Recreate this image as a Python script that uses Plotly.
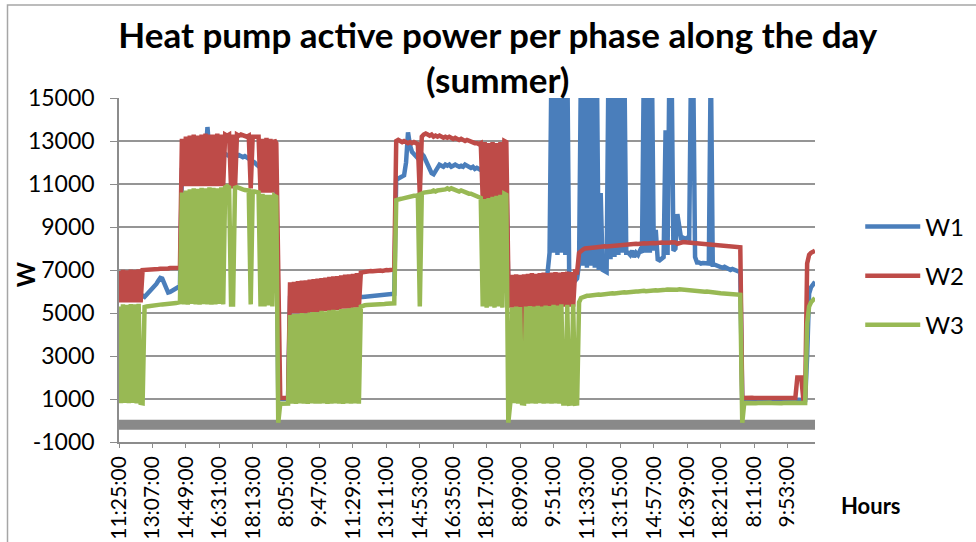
import plotly.graph_objects as go

# ---------------- data ----------------
TIME_LABELS = ["11:25:00", "13:07:00", "14:49:00", "16:31:00", "18:13:00",
               "8:05:00", "9:47:00", "11:29:00", "13:11:00", "14:53:00",
               "16:35:00", "18:17:00", "8:09:00", "9:51:00", "11:33:00",
               "13:15:00", "14:57:00", "16:39:00", "18:21:00", "8:11:00",
               "9:53:00"]
SAMPLES_PER_LABEL = 17   # one tick label every 17 samples
Y_TICKS = [-1000, 1000, 3000, 5000, 7000, 9000, 11000, 13000, 15000]
Y_TICK_TEXT = ["-1000", "1000", "3000", "5000", "7000", "9000", "11000", "13000", "15000"]

# W1 (blue) phase power [W], read segment by segment
W1_PARTS = [
    [6000, 5900, 6000, 5950, 6050, 5900, 6000, 5950, 6050, 6000, 5950, 5900, 5800],
    [5750, 5850, 5950, 6000, 6100, 6200, 6350, 6500, 6630, 6600, 6350, 6100, 5950, 5980, 6050, 6100, 6150, 6200, 6250],
    [11700, 11800, 11850, 11800, 11900, 11950, 12000, 12050, 12100, 12150, 12200, 12250, 12300, 13650, 12400, 12350, 12300, 12350, 12400, 12350, 12300, 12350],
    [12400, 12350, 12300, 12350, 12400, 12350, 12300, 12350, 12300, 12250, 12300, 12250, 12200, 12150, 12100, 12000, 11900, 11800],
    [11750, 11700, 11750, 11700, 11650, 11700, 11650, 11600, 11600],
    [1000, 1000, 990, 1000, 1010, 1000],
    [5700, 5720, 5700, 5710, 5730, 5700, 5720, 5740, 5710, 5730,
     5750, 5720, 5740, 5760, 5730, 5750, 5740, 5760, 5750, 5730,
     5760, 5770, 5750, 5740, 5760, 5770, 5750, 5760, 5780, 5760,
     5770, 5750, 5760, 5780, 5770, 5750, 5760],
    [5750, 5760, 5780, 5770, 5790, 5800, 5810, 5800, 5830, 5850, 5840, 5860, 5870, 5880, 5900, 5890, 5900],
    [11300, 11250, 11300, 11350, 11400, 12000, 13400, 12800, 12500, 12400,
     12300, 12200, 12250, 12400, 12300, 12100, 12000, 11700, 11500, 11450,
     11600, 11800, 11900, 11850, 11800, 11900, 11850, 11900, 11800, 11850,
     11900, 11850, 11800, 11850, 11800, 11900, 11850, 11800, 11750, 11800,
     11700, 11750, 11700, 11650],
    [11600, 11650, 11600, 11550, 11600, 11650, 11600, 11550, 11600, 11600, 11550, 11600, 11600],
    [6000, 6050, 6000, 6020, 6000, 6050, 6000, 1000, 6000, 6050,
     6000, 6020, 6000, 6050, 6000, 6020, 6000, 6050, 6000, 6100,
     6900, 7800, 17000, 7800, 17000, 7700, 17000, 7800, 17000, 7700,
     17000, 6500, 6500, 6500, 6500, 6600],
    [7300, 17000, 7200, 17000, 7100, 17000, 7200, 17000, 7100, 17000,
     7000, 10580, 7000, 6950, 6900, 17000, 7500, 17000, 7600, 17000,
     7700, 17000, 7800, 17000, 7800, 7800, 7700, 7900, 7600, 7800,
     7700, 7900, 7800, 17000, 7800, 17000, 7800, 17000, 7900, 8860,
     7500, 7450, 7500, 7600, 13500, 7700, 17000, 17000, 7900, 8000,
     9600, 8800, 8400, 8500, 8450, 8500, 8450, 17000, 17000, 7600,
     7350, 7350, 7300, 7320, 7300, 7280, 7300, 17000, 7250, 7250,
     7200, 7200, 7150, 7100, 7150, 7100, 7050, 7000, 7050, 7000,
     6950, 6900, 6900],
    [950, 960, 950, 940, 950, 960, 950, 940, 950, 960,
     950, 940, 950, 960, 950, 940, 950, 960, 950, 940,
     950, 960, 950, 940, 950, 960, 950, 940, 950, 960,
     950, 940, 950],
    [3000, 5900, 6200, 6350, 6450],
]

# W2 (red)
W2_PARTS = [
    [6950, 5500, 7000, 5500, 6980, 5500, 7020, 5500, 7000, 5500, 7030, 5500, 7000],
    [7000, 7010, 7020, 7000, 7030, 7040, 7030, 7050, 7060, 7050, 7070, 7080, 7070, 7090, 7100, 7090, 7100, 7110, 7100],
    [13100, 10900, 13200, 10900, 13250, 10900, 13300, 10900, 13250, 10900, 13300, 10900, 13350, 10900, 13300, 10900, 13300, 10900, 13350, 10900, 13300, 10900],
    [13300, 13250, 13300, 10800, 13300, 10800, 13300, 13250, 13300, 13250, 13250, 13200, 13250, 10800, 13200, 13200, 13150, 13200],
    [10600, 13100, 10600, 13150, 10600, 13100, 10600, 13050, 12900],
    [6900, 1050, 1050, 1060, 1050, 1050],
    [6430, 5000, 6450, 5000, 6480, 5000, 6500, 5000, 6520, 5000,
     6550, 5050, 6580, 5050, 6600, 5050, 6620, 5100, 6650, 5100,
     6680, 5100, 6700, 5150, 6720, 5150, 6750, 5200, 6780, 5200,
     6800, 5200, 6820, 5250, 6850, 5250, 6880],
    [6900, 6920, 6900, 6930, 6950, 6940, 6960, 6950, 6970, 6980, 6960, 6990, 7000, 6990, 7010, 7000, 7020],
    [13000, 13050, 13000, 12950, 13000, 12950, 12900, 12950, 12900, 12950,
     12900, 12850, 10500, 13200, 13300, 13350, 13300, 13250, 13300, 13200,
     13250, 13200, 13250, 13200, 13150, 13200, 13150, 13200, 13150, 13100,
     13150, 13100, 13050, 13100, 13050, 13000, 13050, 13000, 12950, 12950,
     12900, 12900, 12850, 12900],
    [10300, 12950, 10300, 12900, 10300, 12950, 10300, 12900, 10300, 12950, 10300, 13000, 12950],
    [6800, 5250, 6770, 5250, 6800, 5250, 6780, 1000, 6800, 5250,
     6820, 5250, 6850, 5250, 6820, 5280, 6850, 5250, 6880, 5280,
     6850, 5300, 6880, 5300, 6900, 5300, 6880, 5300, 6900, 5300,
     6920, 5300, 6900, 5300, 6920, 6900],
    [7800, 7900, 7950, 8000, 8000, 8020, 8050, 8030, 8050, 8060,
     8080, 8070, 8080, 8100, 8090, 8100, 8120, 8110, 8130, 8150,
     8140, 8150, 8170, 8160, 8170, 8180, 8200, 8190, 8200, 8220,
     8210, 8230, 8220, 8240, 8230, 8250, 8240, 8250, 8260, 8250,
     8270, 8260, 8280, 8270, 8260, 8280, 8270, 8290, 8300, 8280,
     8220, 8260, 8290, 8300, 8290, 8280, 8300, 8280, 8270, 8250,
     8260, 8240, 8230, 8220, 8210, 8200, 8200, 8190, 8180, 8170,
     8160, 8150, 8140, 8140, 8130, 8120, 8110, 8100, 8100, 8090,
     8080, 8070, 8060],
    [1050, 1060, 1050, 1040, 1050, 1060, 1050, 1050, 1040, 1050,
     1060, 1050, 1050, 1040, 1050, 1060, 1050, 1050, 1040, 1050,
     1060, 1050, 1050, 1040, 1050, 1060, 1050, 1050, 2000, 2020,
     2000, 1050, 1100],
    [7300, 7700, 7800, 7850, 7900],
]

# W3 (green)
W3_PARTS = [
    [5300, 800, 5400, 820, 5380, 800, 5420, 810, 5400, 790, 5430, 820, 800],
    [5280, 5300, 5320, 5330, 5340, 5360, 5370, 5380, 5390, 5400, 5400, 5410, 5420, 5430, 5440, 5450, 5460, 5480, 5500],
    [10600, 5400, 10700, 5380, 10750, 5420, 10800, 5400, 10780, 5390, 10820, 5410, 10800, 5400, 10850, 5380, 10820, 5400, 10800, 5420, 10850, 5400],
    [10850, 10900, 10850, 5400, 5400, 10820, 10850, 10800, 10800, 10750, 10720, 10700, 10700, 5400, 10650, 10650, 10600, 10600],
    [5300, 10550, 5300, 10500, 5350, 10500, 5300, 10450, 10400],
    [-100, 780, 790, 780, 780, 790],
    [4900, 780, 4950, 770, 4950, 790, 5000, 780, 4980, 770,
     5020, 790, 5050, 780, 5030, 780, 5100, 790, 5080, 770,
     5120, 780, 5150, 790, 5130, 780, 5180, 770, 5200, 790,
     5220, 780, 5250, 790, 5260, 780, 5300],
    [5350, 5360, 5370, 5370, 5380, 5390, 5390, 5400, 5400, 5410, 5420, 5420, 5430, 5430, 5440, 5440, 5450],
    [10250, 10300, 10300, 10320, 10350, 10350, 10380, 10400, 10420, 10450,
     10450, 10480, 5300, 10550, 10600, 10600, 10650, 10600, 10650, 10700,
     10650, 10700, 10700, 10750, 10700, 10750, 10800, 10750, 10800, 10750,
     10700, 10700, 10650, 10700, 10650, 10600, 10600, 10550, 10550, 10500,
     10500, 10450, 10400, 10350],
    [5300, 10300, 5250, 10350, 5300, 10400, 5250, 10450, 5300, 10500, 5250, 10550, 10500],
    [-100, 800, 5250, 800, 5300, 780, 5280, 800, 790, 5300,
     780, 5320, 790, 5300, 780, 5330, 800, 5300, 780, 5350,
     790, 5320, 780, 5380, 790, 5350, 780, 5400, 790, 790,
     5380, 780, 790, 5400, 780, 790],
    [5500, 5700, 5750, 5780, 5800, 5800, 5820, 5830, 5820, 5850,
     5860, 5850, 5870, 5880, 5870, 5900, 5900, 5920, 5910, 5930,
     5940, 5930, 5950, 5960, 5950, 5970, 5980, 5970, 5990, 6000,
     6000, 6020, 6050, 6030, 6010, 6030, 6040, 6030, 6050, 6060,
     6050, 6070, 6080, 6060, 6080, 6090, 6080, 6100, 6090, 6060,
     6080, 6100, 6090, 6070, 6060, 6080, 6070, 6050, 6060, 6040,
     6020, 6030, 6010, 6000, 5990, 6000, 5980, 5970, 5960, 5950,
     5940, 5930, 5920, 5910, 5900, 5900, 5890, 5880, 5880, 5870,
     5860, 5860, 5850],
    [-100, 800, 810, 800, 810, 820, 810, 800, 810, 820,
     810, 810, 800, 810, 820, 810, 800, 810, 820, 810,
     800, 810, 820, 810, 800, 810, 810, 820, 810, 800,
     810, 820, 810],
    [4500, 5300, 5500, 5600, 5700],
]

REF_LEVEL = [-200, -200]   # grey horizontal reference series (not in legend)


def flatten(parts):
    return [v for part in parts for v in part]


w1 = flatten(W1_PARTS)
w2 = flatten(W2_PARTS)
w3 = flatten(W3_PARTS)
for a, b, c in zip(W1_PARTS, W2_PARTS, W3_PARTS):
    assert len(a) == len(b) == len(c), (len(a), len(b), len(c))
n = len(w1)
x = list(range(n))
tickvals = [i * SAMPLES_PER_LABEL for i in range(len(TIME_LABELS))]

FONT = "Lato"
fig = go.Figure()
fig.add_trace(go.Scatter(x=[0, n - 1], y=REF_LEVEL, mode="lines",
                         line=dict(color="#898989", width=10),
                         showlegend=False, hoverinfo="skip"))
series = [("W1", w1, "#4A7EBB"), ("W2", w2, "#BE4B48"), ("W3", w3, "#98B954")]
for name, ys, col in series:
    fig.add_trace(go.Scatter(x=x, y=ys, mode="lines", name=name, legendgroup=name,
                             line=dict(color=col, width=4.5)))

fig.update_layout(
    width=976, height=542, autosize=False,
    paper_bgcolor="white", plot_bgcolor="white",
    margin=dict(l=119, r=161, t=98, b=100, autoexpand=False),
    font=dict(family=FONT, color="black"),
    title=dict(text="<b>Heat pump active power per phase along the day<br>(summer)</b>",
               x=0.510, xanchor="center", xref="container",
               y=0.912, yanchor="top", yref="container",
               font=dict(family=FONT, size=35, color="black")),
    xaxis=dict(range=[0, n - 1], tickmode="array", tickvals=tickvals, ticktext=TIME_LABELS,
               tickangle=-90, tickfont=dict(family=FONT, size=21, color="black"),
               showgrid=False, zeroline=False, showline=True, linecolor="#8c8c8c", linewidth=1.5,
               ticks="outside", ticklen=4, tickcolor="#8c8c8c", automargin=False),
    yaxis=dict(range=[-1000, 15000], tickmode="array", tickvals=Y_TICKS, ticktext=Y_TICK_TEXT,
               tickfont=dict(family=FONT, size=23, color="black"),
               showgrid=True, gridcolor="#959595", gridwidth=1.5, zeroline=False,
               showline=True, linecolor="#8c8c8c", linewidth=1.5,
               ticks="outside", ticklen=7, tickcolor="#8c8c8c", ticklabelstandoff=11,
               automargin=False),
    legend=dict(x=1.065, xanchor="left", y=0.483, yanchor="middle",
                font=dict(family=FONT, size=24, color="black"),
                tracegroupgap=15, itemwidth=55, bgcolor="rgba(0,0,0,0)"),
    annotations=[
        dict(text="<b>W</b>", xref="paper", yref="paper", x=-0.135, y=0.488,
             textangle=-90, showarrow=False, font=dict(family=FONT, size=24, color="black"),
             xanchor="center", yanchor="middle"),
        dict(text="<b>Hours</b>", xref="paper", yref="paper", x=1.081, y=-0.186,
             showarrow=False, font=dict(family=FONT, size=22, color="black"),
             xanchor="center", yanchor="middle"),
    ],
    shapes=[dict(type="rect", xref="paper", yref="paper", x0=-0.1602, x1=1.26,
                 y0=-0.35, y1=1.2703, line=dict(color="#a6a6a6", width=1.5),
                 fillcolor="rgba(0,0,0,0)", layer="below")],
)

fig.write_html("out.html", config={"displayModeBar": False},
               post_script="document.body.style.margin='0';document.body.style.overflow='hidden';")
